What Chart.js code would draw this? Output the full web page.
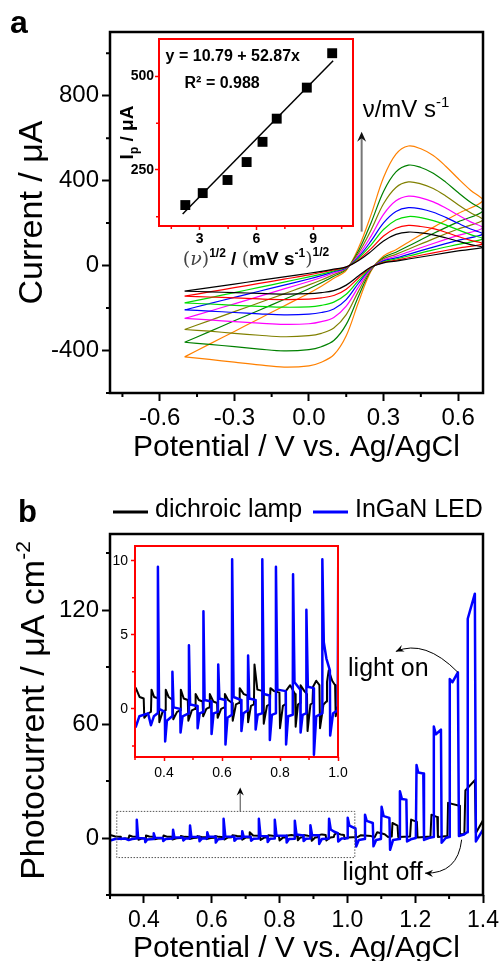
<!DOCTYPE html>
<html>
<head>
<meta charset="utf-8">
<script src="https://cdn.jsdelivr.net/npm/chart.js@4.4.0/dist/chart.umd.min.js"></script>
<style>
body { margin: 0; background: #fff; }
#wrap { position: relative; width: 501px; height: 961px; overflow: hidden; background: #fff; }
canvas { position: absolute; }
</style>
</head>
<body>
<div id="wrap">
<canvas id="cA" style="left:0px;top:0px" width="501" height="480"></canvas>
<canvas id="cAi" style="left:100px;top:30px" width="270" height="250"></canvas>
<canvas id="cB" style="left:0px;top:480px" width="501" height="481"></canvas>
<canvas id="cBi" style="left:100px;top:530px" width="260" height="270"></canvas>
</div>
<script>
const fam = 'Liberation Sans, Arial, sans-serif';

// ---- panel a: cyclic voltammograms (potential for forward then reverse sweep) ----
const cvE = [-0.5,-0.4,-0.3,-0.2,-0.1,0,0.05,0.1,0.15,0.2,0.25,0.3,0.35,0.4,0.45,0.5,0.55,0.6,0.65,0.7,
             0.6,0.5,0.4,0.35,0.3,0.25,0.2,0.15,0.1,0.05,0,-0.1,-0.2,-0.3,-0.4,-0.5];
const cvBlack   = [-120,-104,-87,-70,-53,-36,-27,-17,-6,24,67,116,147,158,154,145,131,115,99,86,
                   69,50,31,21,13,-7,-48,-92,-118,-127,-132,-134,-131,-127,-124,-120];
const cvRed     = [-144,-124,-104,-84,-64,-44,-32,-20,-7,28,80,139,176,189,184,174,157,137,119,103,
                   82,60,37,25,15,-8,-57,-111,-141,-152,-158,-160,-157,-152,-148,-144];
const cvGreen   = [-176,-152,-127,-103,-78,-53,-40,-25,-9,35,98,170,215,231,226,212,192,168,146,126,
                   100,74,45,31,18,-10,-70,-135,-172,-187,-194,-196,-192,-187,-181,-176];
const cvBlue    = [-209,-179,-150,-121,-92,-63,-47,-29,-11,41,116,201,255,273,267,251,227,199,172,149,
                   119,87,53,36,22,-12,-82,-160,-204,-221,-229,-232,-227,-221,-214,-209];
const cvMagenta = [-249,-215,-180,-145,-110,-75,-56,-35,-13,49,139,241,305,327,319,300,271,238,206,178,
                   142,104,64,44,26,-15,-99,-191,-244,-264,-274,-277,-271,-264,-256,-249];
const cvOlive   = [-301,-259,-217,-175,-133,-91,-68,-42,-15,60,168,291,368,394,385,363,328,287,249,215,
                   172,126,77,53,32,-18,-119,-231,-294,-319,-330,-335,-328,-319,-309,-301];
const cvDkGreen = [-361,-311,-260,-210,-160,-109,-81,-50,-18,71,202,349,441,473,462,435,393,344,298,258,
                   206,151,92,63,38,-21,-143,-277,-353,-382,-396,-402,-393,-382,-371,-361];
const cvOrange  = [-430,-370,-310,-250,-190,-130,-97,-60,-22,85,240,415,525,563,550,518,468,410,355,307,
                   245,180,110,75,45,-25,-170,-330,-420,-455,-472,-478,-468,-455,-442,-430];
const cvCurves = [cvBlack, cvRed, cvGreen, cvBlue, cvMagenta, cvOlive, cvDkGreen, cvOrange];
const cvColors = ['#000000','#ff0000','#00dd00','#0000ff','#ff00ff','#808000','#008000','#ff8000'];

const aXMajor = [-0.6,-0.3,0,0.3,0.6];
const aXLabels = ['-0.6','-0.3','0.0','0.3','0.6'];
const aXMinor = [-0.75,-0.45,-0.15,0.15,0.45];
const aYMajor = [-400,0,400,800];
const aYLabels = ['-400','0','400','800'];
const aYMinor = [-600,-200,200,600,1000];

// inset a: peak current vs square root of scan rate
const ipX = [2.24,3.16,4.47,5.48,6.32,7.07,8.66,10.0];
const ipY = [156,188,223,271,325,387,470,562];
const fitX = [2.1,10.05];
const fitY = [132,542];
const iaXMajor = [3,6,9];
const iaXLabels = ['3','6','9'];
const iaXMinor = [1.5,4.5,7.5,10.5];
const iaYMajor = [250,500];
const iaYLabels = ['250','500'];
const iaYMinor = [125,375];

// ---- panel b: chopped-light photocurrent [E, I] ----
const ledData = [[0.303,-1.2],[0.315,-0.5],[0.345,-0.3],[0.355,-1.1],[0.365,-0.5],[0.378,-0.3],[0.379,9.6],[0.383,0.0],
  [0.403,-0.2],[0.404,-2.2],[0.41,-0.8],[0.428,-0.5],[0.429,2.5],[0.433,0.1],[0.456,0.0],[0.457,-1.6],[0.464,-0.5],
  [0.485,-0.3],[0.486,4.3],[0.49,0.3],[0.515,0.2],[0.516,-1.3],[0.523,-0.3],[0.535,-0.2],[0.536,6.6],[0.54,0.6],
  [0.563,0.5],[0.564,-1.7],[0.571,-0.3],[0.586,-0.2],[0.587,3.0],[0.591,0.7],[0.611,0.6],[0.612,-2.4],[0.619,-0.6],
  [0.634,-0.4],[0.635,10.1],[0.64,0.8],[0.666,0.6],[0.667,-1.5],[0.674,-0.3],[0.689,-0.1],[0.69,3.6],[0.694,0.7],
  [0.715,0.6],[0.716,-1.4],[0.723,-0.4],[0.738,-0.3],[0.739,10.1],[0.744,1.0],[0.764,0.9],[0.765,-2.1],[0.772,-0.4],
  [0.785,-0.3],[0.786,9.6],[0.791,1.3],[0.82,1.2],[0.821,-2.4],[0.828,-0.5],[0.844,-0.4],[0.845,9.1],[0.85,1.8],
  [0.87,1.3],[0.871,-1.6],[0.878,-0.4],[0.89,-0.3],[0.891,6.7],[0.896,1.5],[0.916,1.4],[0.917,-3.1],[0.925,-0.5],
  [0.945,-0.3],[0.946,10.1],[0.951,4.5],[0.96,3.4],[0.972,2.6],[0.973,-1.8],[0.983,-0.3],[0.999,-0.1],[1.001,10.6],
  [1.006,6.5],[1.024,5.0],[1.026,-4.5],[1.034,-1.0],[1.05,-0.5],[1.052,12.3],[1.057,9.0],[1.075,7.9],[1.077,-4.4],
  [1.085,-1.0],[1.099,-0.5],[1.101,16.4],[1.107,11.5],[1.124,10.6],[1.126,-6.2],[1.135,-1.0],[1.153,-0.5],[1.155,24.6],
  [1.161,20.5],[1.174,20.2],[1.176,-1.8],[1.19,-0.5],[1.202,0],[1.204,38.4],[1.209,34.5],[1.224,34],[1.226,-1.0],
  [1.24,0],[1.253,0.5],[1.255,58.7],[1.261,54.6],[1.276,57],[1.278,-2.5],[1.29,0],[1.3,0.5],[1.302,83.7],[1.31,82],
  [1.326,87.2],[1.329,1.0],[1.345,2],[1.353,3],[1.355,115.4],[1.376,128.6],[1.379,-1.8],[1.4,4.4]];
const lampData = [[0.303,1.4],[0.316,0.8],[0.33,0.7],[0.332,-0.6],[0.345,-0.3],[0.355,-0.2],[0.357,1.3],[0.366,0.8],
  [0.382,0.7],[0.384,-0.9],[0.395,-0.2],[0.404,-0.1],[0.406,1.3],[0.416,0.8],[0.43,0.6],[0.432,-0.7],[0.445,-0.2],
  [0.456,-0.1],[0.458,1.3],[0.468,0.7],[0.482,0.6],[0.484,-0.8],[0.496,-0.1],[0.507,0],[0.509,1.0],[0.52,0.6],
  [0.533,0.5],[0.535,-0.5],[0.546,0.0],[0.556,0.1],[0.558,1.0],[0.57,0.5],[0.583,0.4],[0.585,-0.6],[0.597,0.0],
  [0.608,0.1],[0.61,1.0],[0.621,0.6],[0.635,0.4],[0.637,-0.8],[0.648,0.3],[0.659,0.4],[0.661,1.4],[0.675,1.0],
  [0.688,0.9],[0.69,-0.9],[0.7,0.2],[0.71,0.3],[0.712,3.0],[0.722,1.3],[0.742,1.2],[0.744,-1.0],[0.755,0.2],
  [0.765,0.3],[0.767,1.4],[0.78,1.2],[0.798,1.1],[0.8,-1.3],[0.81,0.2],[0.818,0.3],[0.82,1.2],[0.835,1.6],
  [0.852,1.0],[0.854,-1.2],[0.862,0.3],[0.869,0.4],[0.871,1.6],[0.884,1.2],[0.893,1.0],[0.895,-1.5],[0.905,0.3],
  [0.912,0.4],[0.914,1.5],[0.925,1.9],[0.936,1.6],[0.938,-1.3],[0.95,0.3],[0.96,0.5],[0.962,1.8],[0.968,2.6],
  [0.98,1.9],[0.99,1.6],[0.992,-0.5],[1.0,0.2],[1.03,0.5],[1.04,1.5],[1.07,1.0],[1.08,0.3],[1.088,3.0],[1.11,2.0],
  [1.12,0.5],[1.131,0.8],[1.133,7.9],[1.148,6.5],[1.15,0.5],[1.185,0.8],[1.188,9.7],[1.205,8.5],[1.207,0.3],
  [1.245,0.8],[1.248,12.3],[1.265,11],[1.267,0.5],[1.295,1],[1.297,18.5],[1.33,17],[1.332,2],[1.345,2],[1.348,25],
  [1.376,30.5],[1.379,2.6],[1.4,9.3]];

const bXMajor = [0.4,0.6,0.8,1.0,1.2,1.4];
const bXLabels = ['0.4','0.6','0.8','1.0','1.2','1.4'];
const bXMinor = [0.3,0.5,0.7,0.9,1.1,1.3];
const bYMajor = [0,60,120];
const bYLabels = ['0','60','120'];
const bYMinor = [-30,30,90,150];

const ibXMajor = [0.4,0.6,0.8,1.0];
const ibXLabels = ['0.4','0.6','0.8','1.0'];
const ibXMinor = [0.3,0.5,0.7,0.9];
const ibYMajor = [0,5,10];
const ibYLabels = ['0','5','10'];
const ibYMinor = [-2.5,2.5,7.5];

// ---- helpers ----
function pts(arr) { return arr.map(p => ({ x: p[0], y: p[1] })); }

function makeAxis(min, max, major, labels, o) {
  return {
    type: 'linear', min: min, max: max,
    afterBuildTicks: s => { s.ticks = major.map(v => ({ value: v })); },
    afterFit: s => {
      if (s.isHorizontal()) s.height = o.size; else s.width = o.size;
      s.paddingLeft = 0; s.paddingRight = 0; s.paddingTop = 0; s.paddingBottom = 0;
    },
    grid: { drawOnChartArea: false, drawTicks: true, tickLength: o.tl, tickWidth: o.tw, tickColor: o.tc },
    border: { display: false },
    ticks: {
      autoSkip: false, maxRotation: 0, minRotation: 0, padding: o.pad, color: '#000',
      font: { family: fam, size: o.fs, weight: o.fw || 'normal' },
      callback: (v, i) => labels[i]
    },
    title: o.title || { display: false }
  };
}

function richText(ctx, parts, x, y, rot, align) {
  ctx.save();
  ctx.translate(x, y);
  ctx.rotate(rot || 0);
  let w = 0;
  parts.forEach(p => { ctx.font = p.f; w += ctx.measureText(p.t).width; });
  let cx = align === 'left' ? 0 : -w / 2;
  ctx.textBaseline = 'alphabetic';
  ctx.textAlign = 'left';
  parts.forEach(p => {
    ctx.font = p.f;
    ctx.fillStyle = p.c || '#000';
    ctx.fillText(p.t, cx, p.dy || 0);
    cx += ctx.measureText(p.t).width;
  });
  ctx.restore();
}

function arrowHead(ctx, x, y, ang, len, col) {
  ctx.save();
  ctx.translate(x, y);
  ctx.rotate(ang);
  ctx.fillStyle = col;
  ctx.beginPath();
  ctx.moveTo(0, 0);
  ctx.lineTo(-len, -len * 0.45);
  ctx.lineTo(-len * 0.65, 0);
  ctx.lineTo(-len, len * 0.45);
  ctx.closePath();
  ctx.fill();
  ctx.restore();
}

// frame round the plot area + short minor ticks
const framePlugin = {
  id: 'frame',
  afterDraw(chart, args, o) {
    const { ctx, chartArea: a, scales } = chart;
    ctx.save();
    ctx.strokeStyle = o.color;
    ctx.lineWidth = o.width;
    ctx.strokeRect(a.left, a.top, a.right - a.left, a.bottom - a.top);
    ctx.strokeStyle = o.tickColor;
    ctx.lineWidth = o.tickWidth;
    ctx.beginPath();
    (o.xMinor || []).forEach(v => {
      const px = scales.x.getPixelForValue(v);
      ctx.moveTo(px, a.bottom); ctx.lineTo(px, a.bottom + o.minorLen);
    });
    (o.yMinor || []).forEach(v => {
      const py = scales.y.getPixelForValue(v);
      ctx.moveTo(a.left, py); ctx.lineTo(a.left - o.minorLen, py);
    });
    ctx.stroke();
    ctx.restore();
  }
};

const base = {
  responsive: false, animation: false, devicePixelRatio: 1,
  events: [],
};

// ---- panel a main ----
const aNotes = {
  id: 'aNotes',
  afterDraw(chart) {
    const { ctx, chartArea: ca, scales: { x, y } } = chart;
    ctx.save();
    ctx.fillStyle = '#000';
    ctx.font = 'bold 32px ' + fam;
    ctx.textBaseline = 'alphabetic';
    ctx.fillText('a', 10, 33);
    richText(ctx, [{ t: 'Current / μA', f: '34px ' + fam }], 42, (ca.top + ca.bottom) / 2, -Math.PI / 2);
    const ax = x.getPixelForValue(0.212);
    const y0 = y.getPixelForValue(160), y1 = y.getPixelForValue(630);
    ctx.strokeStyle = '#777';
    ctx.lineWidth = 2;
    ctx.beginPath(); ctx.moveTo(ax, y0); ctx.lineTo(ax, y1 + 6); ctx.stroke();
    arrowHead(ctx, ax, y1, -Math.PI / 2, 10, '#111');
    richText(ctx, [{ t: 'ν/mV s', f: '24px ' + fam }, { t: '-1', f: '15px ' + fam, dy: -10 }],
      x.getPixelForValue(0.216), y.getPixelForValue(700), 0, 'left');
    ctx.restore();
  }
};

new Chart(document.getElementById('cA'), {
  type: 'scatter',
  data: {
    datasets: cvCurves.map((c, k) => ({
      data: cvE.map((e, i) => ({ x: e, y: c[i] })),
      showLine: true, pointRadius: 0, borderWidth: 1.2, tension: 0.35,
      borderColor: cvColors[k]
    }))
  },
  options: Object.assign({}, base, {
    layout: { padding: { left: 0, top: 32, right: 18, bottom: 0 } },
    scales: {
      x: makeAxis(-0.8, 0.7, aXMajor, aXLabels, { size: 87, tl: 8, tw: 2, tc: '#000', pad: 3, fs: 24,
        title: { display: true, text: 'Potential / V vs. Ag/AgCl', color: '#000',
          font: { family: fam, size: 30, lineHeight: 1 }, padding: { top: 0, bottom: 17 } } }),
      y: makeAxis(-600, 1100, aYMajor, aYLabels, { size: 110, tl: 8, tw: 2, tc: '#000', pad: 3, fs: 24 })
    },
    plugins: {
      legend: { display: false }, tooltip: { enabled: false },
      frame: { color: '#000', width: 2.5, tickColor: '#000', tickWidth: 2, minorLen: 4, xMinor: aXMinor, yMinor: aYMinor }
    }
  }),
  plugins: [framePlugin, aNotes]
});

// ---- inset a ----
const aiNotes = {
  id: 'aiNotes',
  afterDraw(chart) {
    const { ctx, chartArea: ca, scales: { x, y } } = chart;
    ctx.save();
    ctx.fillStyle = '#000';
    ctx.textBaseline = 'alphabetic';
    ctx.font = 'bold 16px ' + fam;
    ctx.fillText('y = 10.79 + 52.87x', x.getPixelForValue(1.2), y.getPixelForValue(540));
    ctx.fillText('R² = 0.988', x.getPixelForValue(2.2), y.getPixelForValue(468));
    richText(ctx, [
      { t: 'I', f: 'bold 19px ' + fam },
      { t: 'p', f: 'bold 12px ' + fam, dy: 5 },
      { t: ' / μA', f: 'bold 19px ' + fam }
    ], ca.left - 26, (ca.top + ca.bottom) / 2, -Math.PI / 2);
    const serif = '19px "DejaVu Serif", serif';
    richText(ctx, [
      { t: '(', f: serif, c: '#444' },
      { t: 'ν', f: 'italic ' + serif, c: '#444' },
      { t: ')', f: serif, c: '#444' },
      { t: '1/2', f: 'bold 12px ' + fam, dy: -8 },
      { t: ' / ', f: 'bold 19px ' + fam },
      { t: '(', f: serif, c: '#444' },
      { t: 'mV s', f: 'bold 19px ' + fam },
      { t: '-1', f: 'bold 12px ' + fam, dy: -8 },
      { t: ')', f: serif, c: '#444' },
      { t: '1/2', f: 'bold 12px ' + fam, dy: -9 }
    ], (ca.left + ca.right) / 2, ca.bottom + 39, 0);
    ctx.restore();
  }
};

new Chart(document.getElementById('cAi'), {
  type: 'scatter',
  data: {
    datasets: [
      { data: ipX.map((v, i) => ({ x: v, y: ipY[i] })), pointStyle: 'rect', pointRadius: 7,
        backgroundColor: '#000', borderColor: '#000', borderWidth: 0, showLine: false },
      { data: fitX.map((v, i) => ({ x: v, y: fitY[i] })), showLine: true, pointRadius: 0,
        borderColor: '#000', borderWidth: 1.5 }
    ]
  },
  options: Object.assign({}, base, {
    layout: { padding: { left: 0, top: 9, right: 17, bottom: 0 } },
    scales: {
      x: makeAxis(0.85, 11.1, iaXMajor, iaXLabels, { size: 54, tl: 4, tw: 1.5, tc: '#ff0000', pad: 1, fs: 14, fw: 'bold' }),
      y: makeAxis(100, 600, iaYMajor, iaYLabels, { size: 59, tl: 4, tw: 1.5, tc: '#ff0000', pad: 1, fs: 14, fw: 'bold' })
    },
    plugins: {
      legend: { display: false }, tooltip: { enabled: false },
      frame: { color: '#ff0000', width: 2, tickColor: '#ff0000', tickWidth: 1.5, minorLen: 3, xMinor: iaXMinor, yMinor: iaYMinor }
    }
  }),
  plugins: [framePlugin, aiNotes]
});

// ---- panel b main ----
const bNotes = {
  id: 'bNotes',
  afterDraw(chart) {
    const { ctx, chartArea: ca, scales: { x, y } } = chart;
    ctx.save();
    ctx.fillStyle = '#000';
    ctx.textBaseline = 'alphabetic';
    ctx.font = 'bold 31px ' + fam;
    ctx.fillText('b', 18, 42);
    richText(ctx, [{ t: 'Photocurrent / μA cm', f: '34px ' + fam }, { t: '-2', f: '21px ' + fam, dy: -14 }],
      44, (ca.top + ca.bottom) / 2 - 4, -Math.PI / 2);

    // legend: lamp first, then LED
    const items = [chart.data.datasets[1], chart.data.datasets[0]];
    const lx = [113, 313];
    ctx.font = '25px ' + fam;
    items.forEach((d, i) => {
      ctx.strokeStyle = d.borderColor;
      ctx.lineWidth = 3;
      ctx.beginPath(); ctx.moveTo(lx[i], 32); ctx.lineTo(lx[i] + 35, 32); ctx.stroke();
      ctx.fillStyle = '#000';
      ctx.fillText(d.label, lx[i] + 42, 37);
    });

    // dotted box marking the zoomed region
    const bx0 = x.getPixelForValue(0.32), bx1 = x.getPixelForValue(1.022);
    const by0 = y.getPixelForValue(14), by1 = y.getPixelForValue(-10.3);
    ctx.strokeStyle = '#555';
    ctx.lineWidth = 1;
    ctx.setLineDash([1.5, 1.5]);
    ctx.strokeRect(bx0, by0, bx1 - bx0, by1 - by0);
    ctx.setLineDash([]);
    const ax = x.getPixelForValue(0.684), ay1 = y.getPixelForValue(26.6);
    ctx.strokeStyle = '#444';
    ctx.beginPath(); ctx.moveTo(ax, by0); ctx.lineTo(ax, ay1 + 5); ctx.stroke();
    arrowHead(ctx, ax, ay1, -Math.PI / 2, 8, '#000');

    ctx.fillStyle = '#000';
    ctx.font = '25px ' + fam;
    ctx.fillText('light on', x.getPixelForValue(1.002), y.getPixelForValue(85.3));
    ctx.fillText('light off', x.getPixelForValue(0.986), y.getPixelForValue(-21.9));

    function curved(s, c, e) {
      const p0 = [x.getPixelForValue(s[0]), y.getPixelForValue(s[1])];
      const p1 = [x.getPixelForValue(c[0]), y.getPixelForValue(c[1])];
      const p2 = [x.getPixelForValue(e[0]), y.getPixelForValue(e[1])];
      ctx.strokeStyle = '#000';
      ctx.lineWidth = 1;
      ctx.beginPath(); ctx.moveTo(p0[0], p0[1]); ctx.quadraticCurveTo(p1[0], p1[1], p2[0], p2[1]); ctx.stroke();
      arrowHead(ctx, p2[0], p2[1], Math.atan2(p2[1] - p1[1], p2[0] - p1[0]), 8, '#000');
    }
    curved([1.326, 87.2], [1.229, 104.8], [1.143, 98.2]);
    curved([1.337, -0.9], [1.326, -18.9], [1.229, -18.5]);
    ctx.restore();
  }
};

const lineStyle = { showLine: true, pointRadius: 0, tension: 0, borderJoinStyle: 'round', borderCapStyle: 'round' };

new Chart(document.getElementById('cB'), {
  type: 'scatter',
  data: {
    datasets: [
      Object.assign({ label: 'InGaN LED', data: pts(ledData), borderWidth: 2.5, borderColor: '#0000ff', order: 0 }, lineStyle),
      Object.assign({ label: 'dichroic lamp', data: pts(lampData), borderWidth: 2, borderColor: '#000000', order: 1 }, lineStyle)
    ]
  },
  options: Object.assign({}, base, {
    layout: { padding: { left: 0, top: 54, right: 18, bottom: 0 } },
    scales: {
      x: makeAxis(0.3, 1.4, bXMajor, bXLabels, { size: 66, tl: 8, tw: 2, tc: '#000', pad: 4, fs: 23,
        title: { display: true, text: 'Potential / V vs. Ag/AgCl', color: '#000',
          font: { family: fam, size: 30, lineHeight: 1 }, padding: { top: 0, bottom: -3 } } }),
      y: makeAxis(-30, 160, bYMajor, bYLabels, { size: 110, tl: 8, tw: 2, tc: '#000', pad: 3, fs: 24 })
    },
    plugins: {
      legend: { display: false }, tooltip: { enabled: false },
      frame: { color: '#000', width: 2.5, tickColor: '#000', tickWidth: 2, minorLen: 4, xMinor: bXMinor, yMinor: bYMinor }
    }
  }),
  plugins: [framePlugin, bNotes]
});

// ---- inset b (same data, 0.3-1.0 V) ----
new Chart(document.getElementById('cBi'), {
  type: 'scatter',
  data: {
    datasets: [
      Object.assign({ data: pts(ledData), borderWidth: 2.5, borderColor: '#0000ff', order: 0 }, lineStyle),
      Object.assign({ data: pts(lampData), borderWidth: 2, borderColor: '#000000', order: 1 }, lineStyle)
    ]
  },
  options: Object.assign({}, base, {
    layout: { padding: { left: 0, top: 16, right: 22, bottom: 0 } },
    scales: {
      x: makeAxis(0.3, 1.0, ibXMajor, ibXLabels, { size: 43, tl: 4, tw: 1.5, tc: '#ff0000', pad: 4, fs: 14 }),
      y: makeAxis(-3.25, 11, ibYMajor, ibYLabels, { size: 35, tl: 4, tw: 1.5, tc: '#ff0000', pad: 3, fs: 14 })
    },
    plugins: {
      legend: { display: false }, tooltip: { enabled: false },
      frame: { color: '#ff0000', width: 2, tickColor: '#ff0000', tickWidth: 1.5, minorLen: 3, xMinor: ibXMinor, yMinor: ibYMinor }
    }
  }),
  plugins: [framePlugin]
});
</script>
</body>
</html>
